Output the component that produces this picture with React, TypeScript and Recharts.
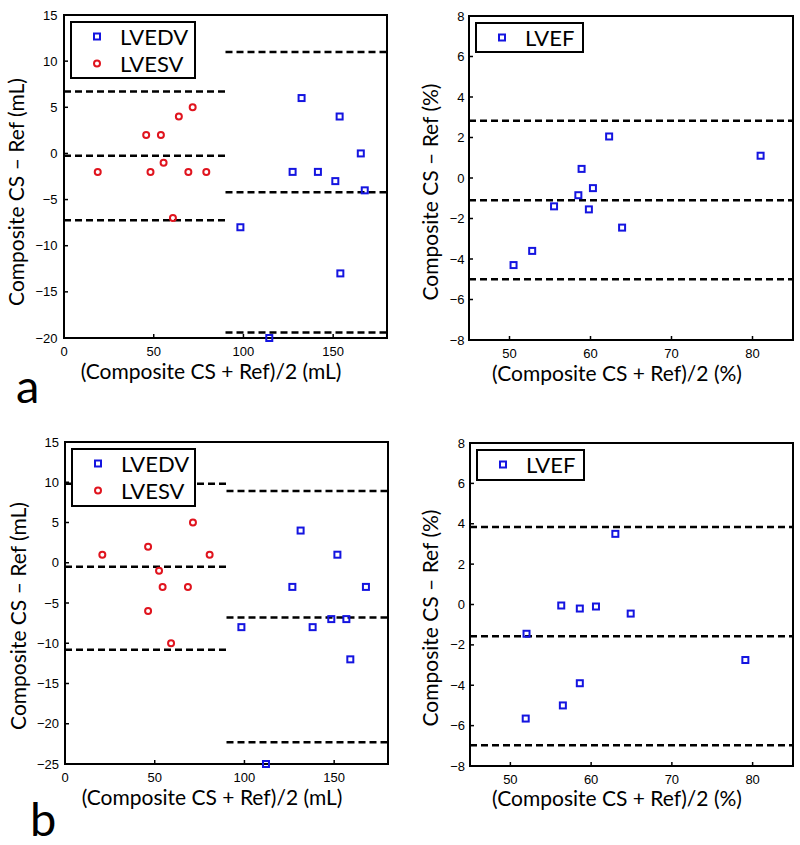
import { Legend, ReferenceArea, ReferenceLine, Scatter, ScatterChart, XAxis, YAxis } from "recharts";

const BLUE = "#1414e0";
const RED = "#e0141e";
const FONT = "Lato, 'Liberation Sans', sans-serif";
const TICK_FONT = "'Liberation Sans', Arial, sans-serif";

// panel a: volumes (mL)
const aEdvX = [98.3, 114.4, 127.4, 132.4, 141.5, 151.2, 153.6, 154, 165.4, 167.6];
const aEdvY = [-8, -20, -2, 6, -2, -3, 4, -13, 0, -4];
const aEsvX = [18.8, 45.8, 48.2, 54, 55.5, 60.7, 64, 69.3, 71.7, 79.3];
const aEsvY = [-2, 2, -2, 2, -1, -7, 4, -2, 5, -2];
const aEdvLimits = [11, -4.2, -19.4];
const aEsvLimits = [6.7, -0.25, -7.25];

// panel a: ejection fraction (%)
const aEfX = [50.5, 52.8, 55.5, 58.5, 58.9, 59.8, 60.3, 62.3, 63.9, 81.0];
const aEfY = [-4.3, -3.6, -1.4, -0.85, 0.45, -1.55, -0.5, 2.05, -2.45, 1.1];
const aEfLimits = [2.83, -1.1, -5.0];

// panel b: volumes (mL)
const bEdvX = [98.3, 112, 126.7, 131.3, 138, 148.4, 151.8, 156.8, 159, 167.7];
const bEdvY = [-8, -25, -3, 4, -8, -7, 1, -7, -12, -3];
const bEsvX = [20.8, 46.3, 46.3, 52.4, 54.4, 59.1, 68.5, 71.3, 80.6];
const bEsvY = [1, 2, -6, -1, -3, -10, -3, 5, 1];
const bEdvLimits = [8.9, -6.8, -22.3];
const bEsvLimits = [9.8, -0.5, -10.8];

// panel b: ejection fraction (%)
const bEfX = [52.0, 51.9, 56.3, 56.5, 58.6, 58.6, 60.6, 63.0, 64.9, 79.1];
const bEfY = [-1.45, -5.65, -0.05, -5.0, -0.2, -3.9, -0.1, 3.5, -0.45, -2.75];
const bEfLimits = [3.84, -1.57, -6.97];

const volXTicks = [0, 50, 100, 150];
const aVolYTicks = [-20, -15, -10, -5, 0, 5, 10, 15];
const bVolYTicks = [-25, -20, -15, -10, -5, 0, 5, 10, 15];
const efXTicks = [50, 60, 70, 80];
const efYTicks = [-8, -6, -4, -2, 0, 2, 4, 6, 8];

const VOL_X_LABEL = "(Composite CS + Ref)/2 (mL)";
const VOL_Y_LABEL = "Composite CS \u2013 Ref (mL)";
const EF_X_LABEL = "(Composite CS + Ref)/2 (%)";
const EF_Y_LABEL = "Composite CS \u2013 Ref (%)";

type Series = {
  name: string;
  xs: number[];
  ys: number[];
  color: string;
  marker: "square" | "circle";
  limits: number[];
  from: number;
  to: number;
};

const TICK_TEXT = { fontSize: 13, fill: "#000", fontFamily: TICK_FONT };
const Y_AXIS_W = 50;

const minus = (v: number) => String(v).replace("-", "\u2212");

function Marker({ kind, color, cx, cy }: { kind: string; color: string; cx: number; cy: number }) {
  if (kind === "circle") {
    return <circle cx={cx} cy={cy} r={3} fill="none" stroke={color} strokeWidth={2} />;
  }
  return <rect x={cx - 3} y={cy - 3} width={6} height={6} fill="none" stroke={color} strokeWidth={2} />;
}

function LegendBox({ series, w, h }: { series: Series[]; w: number; h: number }) {
  return (
    <svg width={w} height={h} style={{ display: "block" }}>
      <rect x={1} y={1} width={w - 2} height={h - 2} fill="#fff" stroke="#000" strokeWidth={2} />
      {series.map((s, i) => (
        <g key={s.name}>
          <Marker kind={s.marker} color={s.color} cx={27} cy={15.5 + 27 * i} />
          <text x={50} y={24 + 27 * i} fontSize={22} fontFamily={FONT} fill="#000">
            {s.name}
          </text>
        </g>
      ))}
    </svg>
  );
}

function Panel(props: {
  left: number;
  top: number;
  w: number;
  h: number;
  margin: { top: number; right: number; bottom: number; left: number };
  xDomain: [number, number];
  yDomain: [number, number];
  xTicks: number[];
  yTicks: number[];
  series: Series[];
  legend: { w: number; h: number };
  yTickGap: number;
}) {
  const { left, top, w, h, margin, xDomain, yDomain, xTicks, yTicks, series, legend, yTickGap } = props;
  return (
    <div style={{ position: "absolute", left, top }}>
      <ScatterChart width={w} height={h} margin={margin}>
        <XAxis
          type="number"
          dataKey="x"
          domain={xDomain}
          ticks={xTicks}
          interval={0}
          height={41}
          stroke="#000"
          tickSize={-4}
          tickMargin={13}
          axisLine={{ strokeWidth: 2 }}
          tickLine={{ strokeWidth: 1.5 }}
          tick={TICK_TEXT}
        />
        <XAxis
          xAxisId="top"
          orientation="top"
          type="number"
          domain={xDomain}
          ticks={xTicks}
          interval={0}
          allowDataOverflow
          height={0}
          stroke="#000"
          tickSize={-4}
          tick={false}
          axisLine={{ strokeWidth: 2 }}
          tickLine={{ strokeWidth: 1.5 }}
        />
        <YAxis
          type="number"
          dataKey="y"
          domain={yDomain}
          ticks={yTicks}
          interval={0}
          width={Y_AXIS_W}
          stroke="#000"
          tickSize={-4}
          tickMargin={yTickGap}
          axisLine={{ strokeWidth: 2 }}
          tickLine={{ strokeWidth: 1.5 }}
          tick={TICK_TEXT}
          tickFormatter={minus}
        />
        <YAxis
          yAxisId="right"
          orientation="right"
          type="number"
          domain={yDomain}
          ticks={yTicks}
          interval={0}
          allowDataOverflow
          width={0}
          stroke="#000"
          tickSize={-4}
          tick={false}
          axisLine={{ strokeWidth: 2 }}
          tickLine={{ strokeWidth: 1.5 }}
        />
        <ReferenceArea
          x1={xDomain[0]}
          x2={xDomain[1]}
          y1={yDomain[0]}
          y2={yDomain[1]}
          fill="none"
          stroke="#000"
          strokeWidth={2}
          fillOpacity={0}
        />
        {series.flatMap((s) =>
          s.limits.map((v, i) => (
            <ReferenceLine
              key={`${s.name}-${i}`}
              segment={[
                { x: s.from, y: v },
                { x: s.to, y: v },
              ]}
              stroke="#000"
              strokeWidth={2.5}
              strokeDasharray="7 4"
            />
          ))
        )}
        {series.map((s) => (
          <Scatter
            key={s.name}
            name={s.name}
            data={s.xs.map((x, i) => ({ x, y: s.ys[i] }))}
            shape={(p: any) => <Marker kind={s.marker} color={s.color} cx={p.cx} cy={p.cy} />}
            isAnimationActive={false}
          />
        ))}
        <Legend
          layout="vertical"
          align="center"
          verticalAlign="middle"
          content={() => <LegendBox series={series} w={legend.w} h={legend.h} />}
          wrapperStyle={{
            left: margin.left + Y_AXIS_W + 5.5,
            top: margin.top + 6,
            width: legend.w,
            height: legend.h,
          }}
        />
      </ScatterChart>
    </div>
  );
}

const aVol: Series[] = [
  { name: "LVEDV", xs: aEdvX, ys: aEdvY, color: BLUE, marker: "square", limits: aEdvLimits, from: 90, to: 180 },
  { name: "LVESV", xs: aEsvX, ys: aEsvY, color: RED, marker: "circle", limits: aEsvLimits, from: 0, to: 90 },
];
const aEf: Series[] = [
  { name: "LVEF", xs: aEfX, ys: aEfY, color: BLUE, marker: "square", limits: aEfLimits, from: 45, to: 85 },
];
const bVol: Series[] = [
  { name: "LVEDV", xs: bEdvX, ys: bEdvY, color: BLUE, marker: "square", limits: bEdvLimits, from: 90, to: 180 },
  { name: "LVESV", xs: bEsvX, ys: bEsvY, color: RED, marker: "circle", limits: bEsvLimits, from: 0, to: 90 },
];
const bEf: Series[] = [
  { name: "LVEF", xs: bEfX, ys: bEfY, color: BLUE, marker: "square", limits: bEfLimits, from: 45, to: 85 },
];

const textStyle = { fontFamily: FONT, fill: "#000" };

export default function App() {
  return (
    <div style={{ position: "absolute", left: 0, top: 0, width: 800, height: 845, background: "#fff", overflow: "hidden" }}>
      <Panel
        left={0}
        top={0}
        w={400}
        h={420}
        margin={{ top: 15, right: 13, bottom: 41, left: 14 }}
        xDomain={[0, 180]}
        yDomain={[-20, 15]}
        xTicks={volXTicks}
        yTicks={aVolYTicks}
        series={aVol}
        legend={{ w: 126, h: 58 }}
        yTickGap={10.5}
      />
      <Panel
        left={400}
        top={0}
        w={400}
        h={420}
        margin={{ top: 16, right: 7, bottom: 39, left: 19 }}
        xDomain={[45, 85]}
        yDomain={[-8, 8]}
        xTicks={efXTicks}
        yTicks={efYTicks}
        series={aEf}
        legend={{ w: 109, h: 31 }}
        yTickGap={8.5}
      />
      <Panel
        left={0}
        top={420}
        w={400}
        h={425}
        margin={{ top: 22, right: 12, bottom: 40, left: 15 }}
        xDomain={[0, 180]}
        yDomain={[-25, 15]}
        xTicks={volXTicks}
        yTicks={bVolYTicks}
        series={bVol}
        legend={{ w: 125, h: 59 }}
        yTickGap={10}
      />
      <Panel
        left={400}
        top={420}
        w={400}
        h={425}
        margin={{ top: 23, right: 7, bottom: 38, left: 20 }}
        xDomain={[45, 85]}
        yDomain={[-8, 8]}
        xTicks={efXTicks}
        yTicks={efYTicks}
        series={bEf}
        legend={{ w: 109, h: 32 }}
        yTickGap={9}
      />
      <svg width={800} height={845} style={{ position: "absolute", left: 0, top: 0, pointerEvents: "none" }}>
        <g fontSize={21} textAnchor="middle" style={textStyle}>
          <text x={211} y={379}>{VOL_X_LABEL}</text>
          <text x={617} y={381}>{EF_X_LABEL}</text>
          <text x={212} y={805}>{VOL_X_LABEL}</text>
          <text x={617} y={806}>{EF_X_LABEL}</text>
          <text transform="translate(24,192) rotate(-90)">{VOL_Y_LABEL}</text>
          <text transform="translate(438,192) rotate(-90)">{EF_Y_LABEL}</text>
          <text transform="translate(25.5,616) rotate(-90)">{VOL_Y_LABEL}</text>
          <text transform="translate(438,618) rotate(-90)">{EF_Y_LABEL}</text>
        </g>
        <text x={16} y={403} fontSize={47} style={textStyle}>a</text>
        <text x={30} y={836} fontSize={47} style={textStyle}>b</text>
      </svg>
    </div>
  );
}
